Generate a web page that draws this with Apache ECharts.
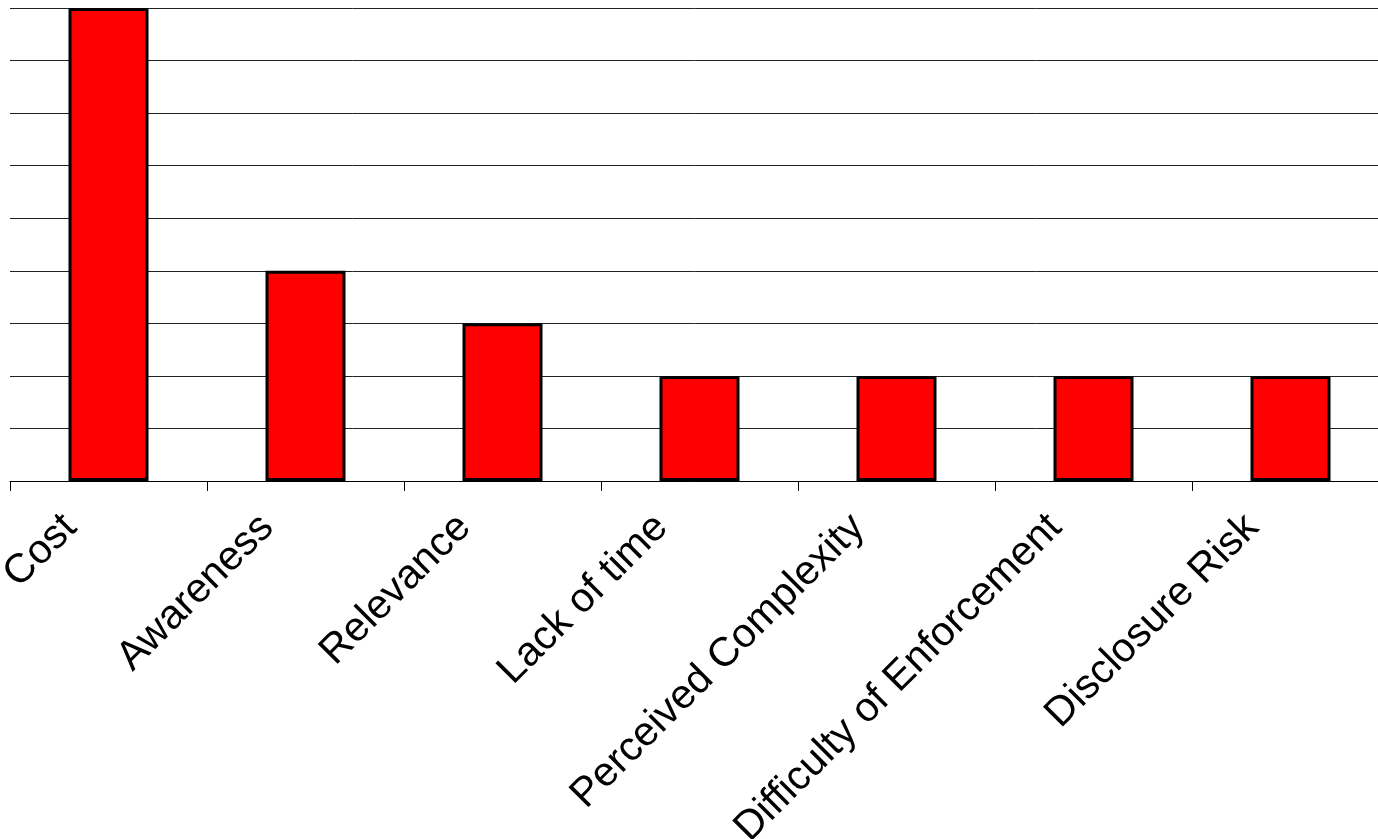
<!DOCTYPE html>
<html>
<head>
<meta charset="utf-8">
<script src="https://cdn.jsdelivr.net/npm/echarts@6/dist/echarts.min.js"></script>
<style>
html,body{margin:0;padding:0;background:#fff;}
#chart{width:1378px;height:839px;}
</style>
</head>
<body>
<div id="chart"></div>
<script>
var categories = ["Cost", "Awareness", "Relevance", "Lack of time", "Perceived Complexity", "Difficulty of Enforcement", "Disclosure Risk"];
var values = [9, 4, 3, 2, 2, 2, 2];

var chart = echarts.init(document.getElementById('chart'), null, {renderer: 'canvas'});
chart.setOption({
  animation: false,
  backgroundColor: '#ffffff',
  grid: {left: 10, top: 8, width: 1379, bottom: 358, containLabel: false, outerBoundsMode: 'none'},
  xAxis: {
    type: 'category',
    data: categories,
    boundaryGap: true,
    axisLine: {show: true, lineStyle: {color: '#000', width: 1}},
    axisTick: {show: true, alignWithLabel: false, length: 10, lineStyle: {color: '#000', width: 1}},
    axisLabel: {
      interval: 0,
      rotate: 45,
      margin: 2,
      padding: [0, 54, 12, 0],
      color: '#000',
      fontFamily: 'Liberation Sans, Arial, sans-serif',
      fontSize: 41
    }
  },
  yAxis: {
    type: 'value',
    min: 0,
    max: 9,
    interval: 1,
    axisLine: {show: false},
    axisTick: {show: false},
    axisLabel: {show: false},
    splitLine: {show: true, lineStyle: {color: '#222', width: 1}}
  },
  series: [{
    type: 'bar',
    data: values,
    barWidth: 80,
    itemStyle: {color: '#ff0000', borderColor: '#000', borderWidth: 3}
  }]
});
</script>
</body>
</html>
